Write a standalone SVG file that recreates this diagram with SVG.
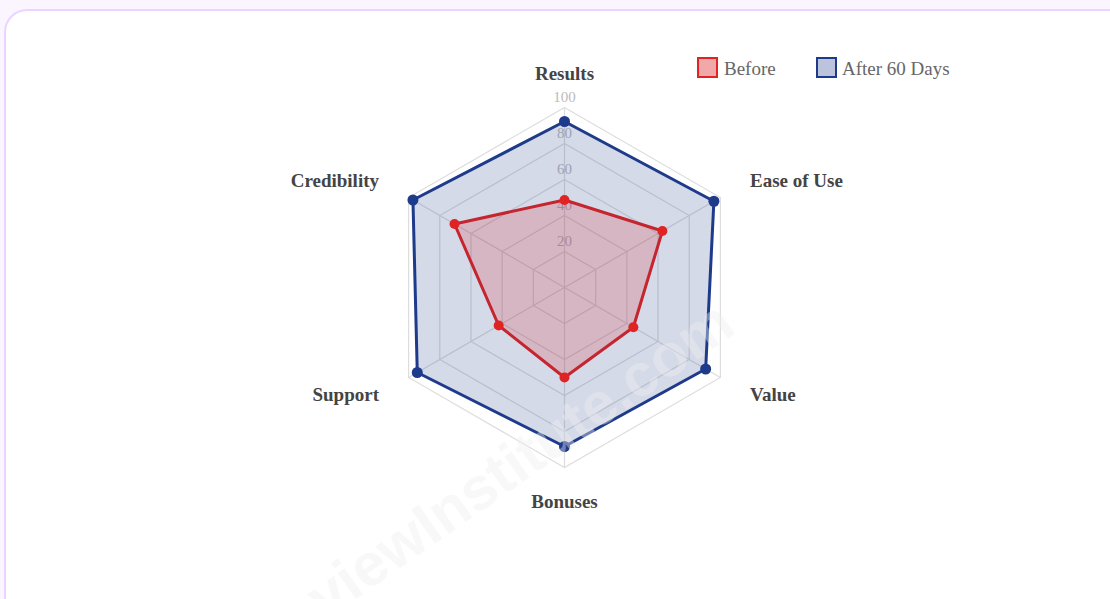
<svg xmlns="http://www.w3.org/2000/svg" width="1110" height="599" viewBox="0 0 1110 599">
  <style>
    .grid { fill: none; stroke: #dddddd; stroke-width: 1.2; }
    .tick { font-family: "Liberation Serif", serif; font-size: 15px; fill: #bbbbbb; text-anchor: middle; }
    .axis { font-family: "Liberation Serif", serif; font-size: 19px; font-weight: bold; fill: #444444; }
    .legend { font-family: "Liberation Serif", serif; font-size: 19px; fill: #666666; }
    .after-area { fill: rgba(30,58,138,0.19); stroke: #1e3a8a; stroke-width: 3; stroke-linejoin: round; }
    .after-pt { fill: #1e3a8a; }
    .before-area { fill: rgba(220,38,38,0.2); stroke: #c4252f; stroke-width: 3; stroke-linejoin: round; }
    .before-pt { fill: #e02424; }
    .wm { font-family: "Liberation Sans", sans-serif; font-size: 60px; font-weight: bold; fill: #f0f0f0; opacity: 0.4; text-anchor: middle; }
  </style>
  <rect x="0" y="0" width="1110" height="599" fill="#faf5ff"/>
  <rect x="5" y="10" width="1125" height="620" rx="22" ry="22" fill="#ffffff" stroke="#e9d5ff" stroke-width="2"/>

  <g id="grid">
    <polygon class="grid" points="564.5,251.5 595.68,269.5 595.68,305.5 564.5,323.5 533.32,305.5 533.32,269.5"/>
    <polygon class="grid" points="564.5,215.5 626.85,251.5 626.85,323.5 564.5,359.5 502.15,323.5 502.15,251.5"/>
    <polygon class="grid" points="564.5,179.5 658.03,233.5 658.03,341.5 564.5,395.5 470.97,341.5 470.97,233.5"/>
    <polygon class="grid" points="564.5,143.5 689.21,215.5 689.21,359.5 564.5,431.5 439.79,359.5 439.79,215.5"/>
    <polygon class="grid" points="564.5,107.5 720.38,197.5 720.38,377.5 564.5,467.5 408.62,377.5 408.62,197.5"/>
    <path class="grid" d="M564.5,287.5 L564.5,107.5 M564.5,287.5 L720.38,197.5 M564.5,287.5 L720.38,377.5 M564.5,287.5 L564.5,467.5 M564.5,287.5 L408.62,377.5 M564.5,287.5 L408.62,197.5"/>
    <text class="tick" x="564.5" y="102">100</text>
    <text class="tick" x="564.5" y="138">80</text>
    <text class="tick" x="564.5" y="174">60</text>
    <text class="tick" x="564.5" y="210">40</text>
    <text class="tick" x="564.5" y="246">20</text>
  </g>

  <g id="series-after">
    <polygon class="after-area" points="564.5,121.5 713.89,201.25 705.66,369 564.5,446.5 417.28,372.5 412.95,200"/>
    <circle class="after-pt" cx="564.5" cy="121.5" r="5.5"/>
    <circle class="after-pt" cx="713.89" cy="201.25" r="5.5"/>
    <circle class="after-pt" cx="705.66" cy="369" r="5.5"/>
    <circle class="after-pt" cx="564.5" cy="446.5" r="5.5"/>
    <circle class="after-pt" cx="417.28" cy="372.5" r="5.5"/>
    <circle class="after-pt" cx="412.95" cy="200" r="5.5"/>
  </g>

  <g id="series-before">
    <polygon class="before-area" points="564.5,200 662.36,231 633.35,327.25 564.5,377.5 498.68,325.5 454.52,224"/>
    <circle class="before-pt" cx="564.5" cy="200" r="5"/>
    <circle class="before-pt" cx="662.36" cy="231" r="5"/>
    <circle class="before-pt" cx="633.35" cy="327.25" r="5"/>
    <circle class="before-pt" cx="564.5" cy="377.5" r="5"/>
    <circle class="before-pt" cx="498.68" cy="325.5" r="5"/>
    <circle class="before-pt" cx="454.52" cy="224" r="5"/>
  </g>

  <g id="axis-labels">
    <text id="label-results" class="axis" x="564.5" y="80" text-anchor="middle">Results</text>
    <text id="label-ease" class="axis" x="750" y="187" text-anchor="start">Ease of Use</text>
    <text id="label-value" class="axis" x="750" y="401" text-anchor="start">Value</text>
    <text id="label-bonuses" class="axis" x="564.5" y="508" text-anchor="middle">Bonuses</text>
    <text id="label-support" class="axis" x="379" y="401" text-anchor="end">Support</text>
    <text id="label-credibility" class="axis" x="379" y="187" text-anchor="end">Credibility</text>
  </g>

  <g id="legend">
    <g id="legend-before">
      <rect x="698" y="58" width="19" height="19" fill="rgba(220,38,38,0.4)" stroke="#e02424" stroke-width="2"/>
      <text class="legend" x="724" y="75">Before</text>
    </g>
    <g id="legend-after">
      <rect x="817" y="58" width="19" height="19" fill="rgba(30,58,138,0.3)" stroke="#1e3a8a" stroke-width="2"/>
      <text class="legend" x="842" y="75">After 60 Days</text>
    </g>
  </g>

  <text class="wm" transform="translate(500,498) rotate(-35)">ReviewInstitute.com</text>
</svg>
